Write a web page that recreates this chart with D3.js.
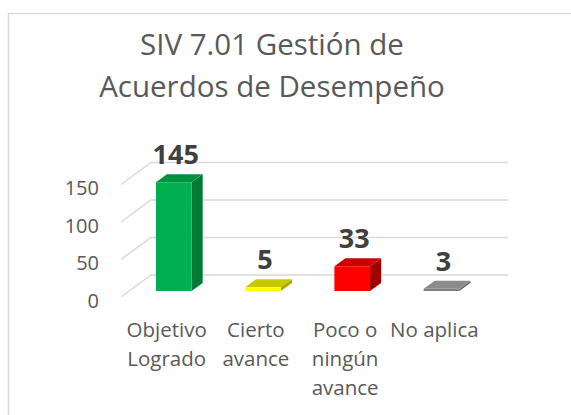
<!DOCTYPE html>
<html>
<head>
<meta charset="utf-8">
<script src="https://cdn.jsdelivr.net/npm/d3@7"></script>
<style>
	body { margin: 0; background: #fff; }
	svg { display: block; font-family: "Open Sans", sans-serif; }
</style>
</head>
<body>
<svg id="chart" width="571" height="415"></svg>
<script>
var titleLines = ["SIV 7.01 Gestión de", "Acuerdos de Desempeño"];
var categories = [
	["Objetivo", "Logrado"],
	["Cierto", "avance"],
	["Poco o", "ningún", "avance"],
	["No aplica"]
];
var values = [145, 5, 33, 3];
var yTicks = [0, 50, 100, 150];
var frontColors = ["#00b050", "#ffff00", "#ff0000", "#7f7f7f"];
var topColors = ["#00913f", "#c8c800", "#cc0000", "#8c8c8c"];
var sideColors = ["#007a35", "#a8a800", "#a00000", "#6a6a6a"];

var svg = d3.select("#chart");

// the 3d look: depth goes to the upper right
var depthX = 30, depthY = -22;
var barZ0 = 0.27, barZ1 = 0.64;

var x = d3.scaleBand()
	.domain(d3.range(categories.length))
	.range([121, 478])
	.paddingInner(0.6)
	.paddingOuter(0.3);

var y = d3.scaleLinear()
	.domain([0, 150])
	.range([297, 184.5]);

function px(v, z) { return v + z * depthX; }
function py(v, z) { return y(v) + z * depthY; }

// outer border of the chart area
svg.append("rect")
	.attr("x", 8.5).attr("y", 13.5)
	.attr("width", 620).attr("height", 450)
	.attr("fill", "none")
	.attr("stroke", "#d9d9d9")
	.attr("stroke-width", 1.5);

svg.append("text")
	.attr("text-anchor", "middle")
	.attr("fill", "#595959")
	.style("font-size", "29.5px")
	.selectAll("tspan")
	.data(titleLines)
	.enter().append("tspan")
	.attr("x", 272)
	.attr("y", function(d, i) { return 55 + i * 42; })
	.text(function(d) { return d; });

// gridlines on the back wall and the floor/side diagonals
var grid = svg.append("g").attr("stroke", "#d9d9d9").attr("stroke-width", 1.5).attr("fill", "none");
yTicks.forEach(function(t) {
	grid.append("path")
		.attr("d", "M" + px(121, 0) + "," + py(t, 0) +
			"L" + px(121, 1) + "," + py(t, 1) +
			"L" + px(478, 1) + "," + py(t, 1));
});

svg.append("g")
	.selectAll("text")
	.data(yTicks)
	.enter().append("text")
	.attr("x", 99)
	.attr("y", function(d) { return y(d) + 10.5; })
	.attr("text-anchor", "end")
	.attr("fill", "#595959")
	.style("font-size", "20px")
	.text(function(d) { return d; });

// bars
var bars = svg.selectAll(".bar")
	.data(values)
	.enter().append("g")
	.attr("class", "bar");

bars.each(function(d, i) {
	var g = d3.select(this);
	var x0 = x(i), x1 = x(i) + x.bandwidth();
	var pt = function(xv, v, z) { return px(xv, z) + "," + py(v, z); };
	// side
	g.append("polygon")
		.attr("points", [pt(x1, 0, barZ0), pt(x1, 0, barZ1), pt(x1, d, barZ1), pt(x1, d, barZ0)].join(" "))
		.attr("fill", sideColors[i]);
	// top
	g.append("polygon")
		.attr("points", [pt(x0, d, barZ0), pt(x1, d, barZ0), pt(x1, d, barZ1), pt(x0, d, barZ1)].join(" "))
		.attr("fill", topColors[i]);
	// front
	g.append("polygon")
		.attr("points", [pt(x0, 0, barZ0), pt(x1, 0, barZ0), pt(x1, d, barZ0), pt(x0, d, barZ0)].join(" "))
		.attr("fill", frontColors[i]);
	g.append("text")
		.attr("x", px(x(i) + x.bandwidth() / 2, barZ0) + 2)
		.attr("y", py(d, barZ1) - 10)
		.attr("text-anchor", "middle")
		.attr("fill", "#404040")
		.style("font-size", "27px")
		.style("font-weight", "bold")
		.text(d);
});

// category labels
svg.append("g")
	.selectAll("text")
	.data(categories)
	.enter().append("text")
	.attr("text-anchor", "middle")
	.attr("fill", "#595959")
	.style("font-size", "20.5px")
	.each(function(lines, i) {
		d3.select(this).selectAll("tspan")
			.data(lines)
			.enter().append("tspan")
			.attr("x", x(i) + x.bandwidth() / 2 + 1)
			.attr("y", function(d, j) { return 337 + j * 29; })
			.text(function(d) { return d; });
	});
</script>
</body>
</html>
